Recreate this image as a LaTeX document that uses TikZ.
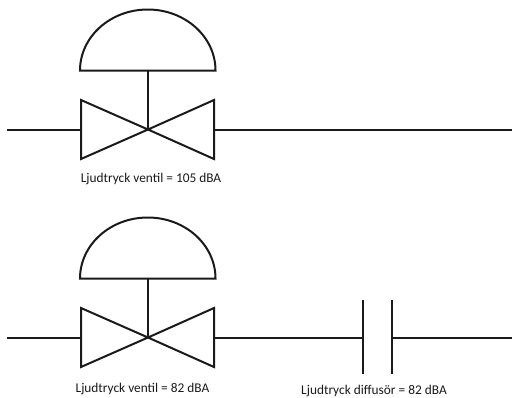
\documentclass[tikz,border=0pt]{standalone}
\usepackage{fontspec}
\setmainfont{Carlito}
\definecolor{ink}{HTML}{1A1A1A}
\tikzset{
  x=1pt,y=-1pt,
  pipe/.style={draw=ink,line width=2pt,line join=miter},
  lbl/.style={inner sep=0pt,text=ink,font=\fontsize{13.35pt}{15pt}\selectfont,anchor=center},
  valve/.pic={
    \coordinate (-c) at (0,0);
    \coordinate (-lt) at (-67,-29.5);
    \coordinate (-lb) at (-67,29.5);
    \coordinate (-rt) at (66,-29.5);
    \coordinate (-rb) at (66,29.5);
    \coordinate (-dl) at (-68,-59);
    \coordinate (-dr) at (67.5,-59);
    \coordinate (-dm) at (0,-59);
    \draw[pipe] (-c) -- (-lt) -- (-lb) -- cycle;
    \draw[pipe] (-c) -- (-rt) -- (-rb) -- cycle;
    \draw[pipe] (-dm) -- (-c);
    \draw[pipe] (-dl) -- (-dr) arc[start angle=0,end angle=180,x radius=67.75,y radius=-61] -- cycle;
  }
}
\begin{document}
\begin{tikzpicture}
\useasboundingbox (0,0) rectangle (512,397);
\pic (v1) at (148,129.5) {valve};
\pic (v2) at (148,337.5) {valve};
\coordinate (a1) at (7,129.5);
\coordinate (b1) at (512,129.5);
\coordinate (a2) at (7,337.5);
\coordinate (b2) at (512,337.5);
\coordinate (p1) at (362.5,337.5);
\coordinate (p2) at (392,337.5);
\coordinate (p1t) at (362.5,300);
\coordinate (p1b) at (362.5,374);
\coordinate (p2t) at (392,300);
\coordinate (p2b) at (392,374);
\draw[pipe] (a1) -- (v1-c -| v1-lt);
\draw[pipe] (v1-c -| v1-rt) -- (b1);
\draw[pipe] (a2) -- (v2-c -| v2-lt);
\draw[pipe] (v2-c -| v2-rt) -- (p1);
\draw[pipe] (p1t) -- (p1b);
\draw[pipe] (p2t) -- (p2b);
\draw[pipe] (p2) -- (b2);
\node[lbl] (t1) at (151,179) {Ljudtryck ventil = 105 dBA};
\node[lbl] (t2) at (142.5,389.5) {Ljudtryck ventil = 82 dBA};
\node[lbl] (t3) at (374,391) {Ljudtryck diffusör = 82 dBA};
\end{tikzpicture}
\end{document}
